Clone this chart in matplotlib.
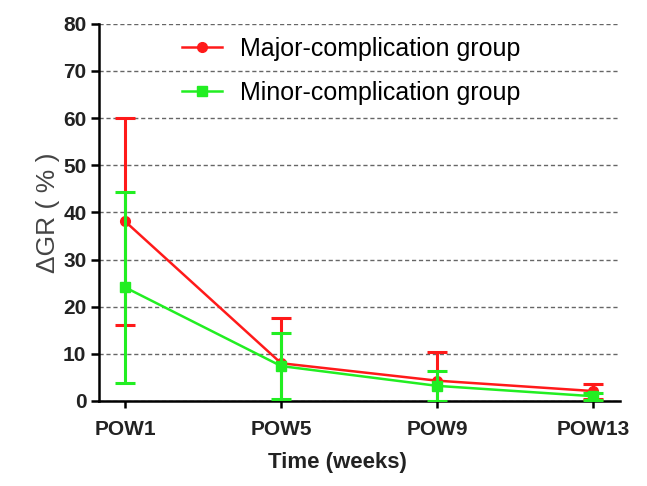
import matplotlib.pyplot as plt
from matplotlib.lines import Line2D
import numpy as np

plt.rcParams['font.family'] = ['Liberation Sans', 'DejaVu Sans']

# data
timepoints = ['POW1', 'POW5', 'POW9', 'POW13']
major_mean = [38.1, 8.0, 4.3, 2.1]
major_err = [21.9, 9.6, 6.1, 1.6]
minor_mean = [24.1, 7.4, 3.2, 1.0]
minor_err = [20.2, 7.0, 3.2, 0.7]

red = '#ff1a1a'
green = '#22ee22'

x = np.arange(len(timepoints))

fig = plt.figure(figsize=(6.47, 4.86), dpi=100)
ax = fig.add_axes([0.153, 0.175, 0.805, 0.776])

ax.errorbar(x, major_mean, yerr=major_err, color=red, marker='o',
            markersize=7, linewidth=1.8, elinewidth=2.2, capsize=7,
            capthick=2.2, zorder=3)
ax.errorbar(x, minor_mean, yerr=minor_err, color=green, marker='s',
            markersize=7, linewidth=1.8, elinewidth=2.2, capsize=7,
            capthick=2.2, zorder=4)

ax.set_xlim(-0.167, 3.17)
ax.set_ylim(0, 80)
ax.set_yticks(range(0, 81, 10))
ax.set_xticks(x)
ax.set_xticklabels(timepoints)

ax.yaxis.grid(True, linestyle=(0, (3, 2)), color='#666666', linewidth=1.0)
ax.set_axisbelow(True)

for s in ['top', 'right']:
    ax.spines[s].set_visible(False)
for s in ['left', 'bottom']:
    ax.spines[s].set_linewidth(1.8)

ax.tick_params(axis='y', direction='out', length=6, width=1.8,
               labelsize=15, pad=3)
ax.tick_params(axis='x', direction='out', length=5, width=1.8,
               labelsize=15, pad=9)
for lab in ax.get_xticklabels() + ax.get_yticklabels():
    lab.set_fontweight('bold')
    lab.set_color('#222222')

ax.set_xlabel('Time (weeks)', fontsize=16, fontweight='bold', color='#222222',
              labelpad=12)
ax.xaxis.set_label_coords(0.457, -0.135)
ax.set_ylabel('\u0394GR ( % )', fontsize=19, color='#444444', labelpad=2)

handles = [Line2D([], [], color=red, marker='o', markersize=7, linewidth=1.8),
           Line2D([], [], color=green, marker='s', markersize=7, linewidth=1.8)]
labels = ['Major-complication group', 'Minor-complication group']
ax.legend(handles, labels, loc='upper left', bbox_to_anchor=(0.117, 1.025),
          frameon=False, fontsize=18, handlelength=1.6, handletextpad=0.7,
          labelspacing=0.8)

plt.savefig('out.png', dpi=100)
